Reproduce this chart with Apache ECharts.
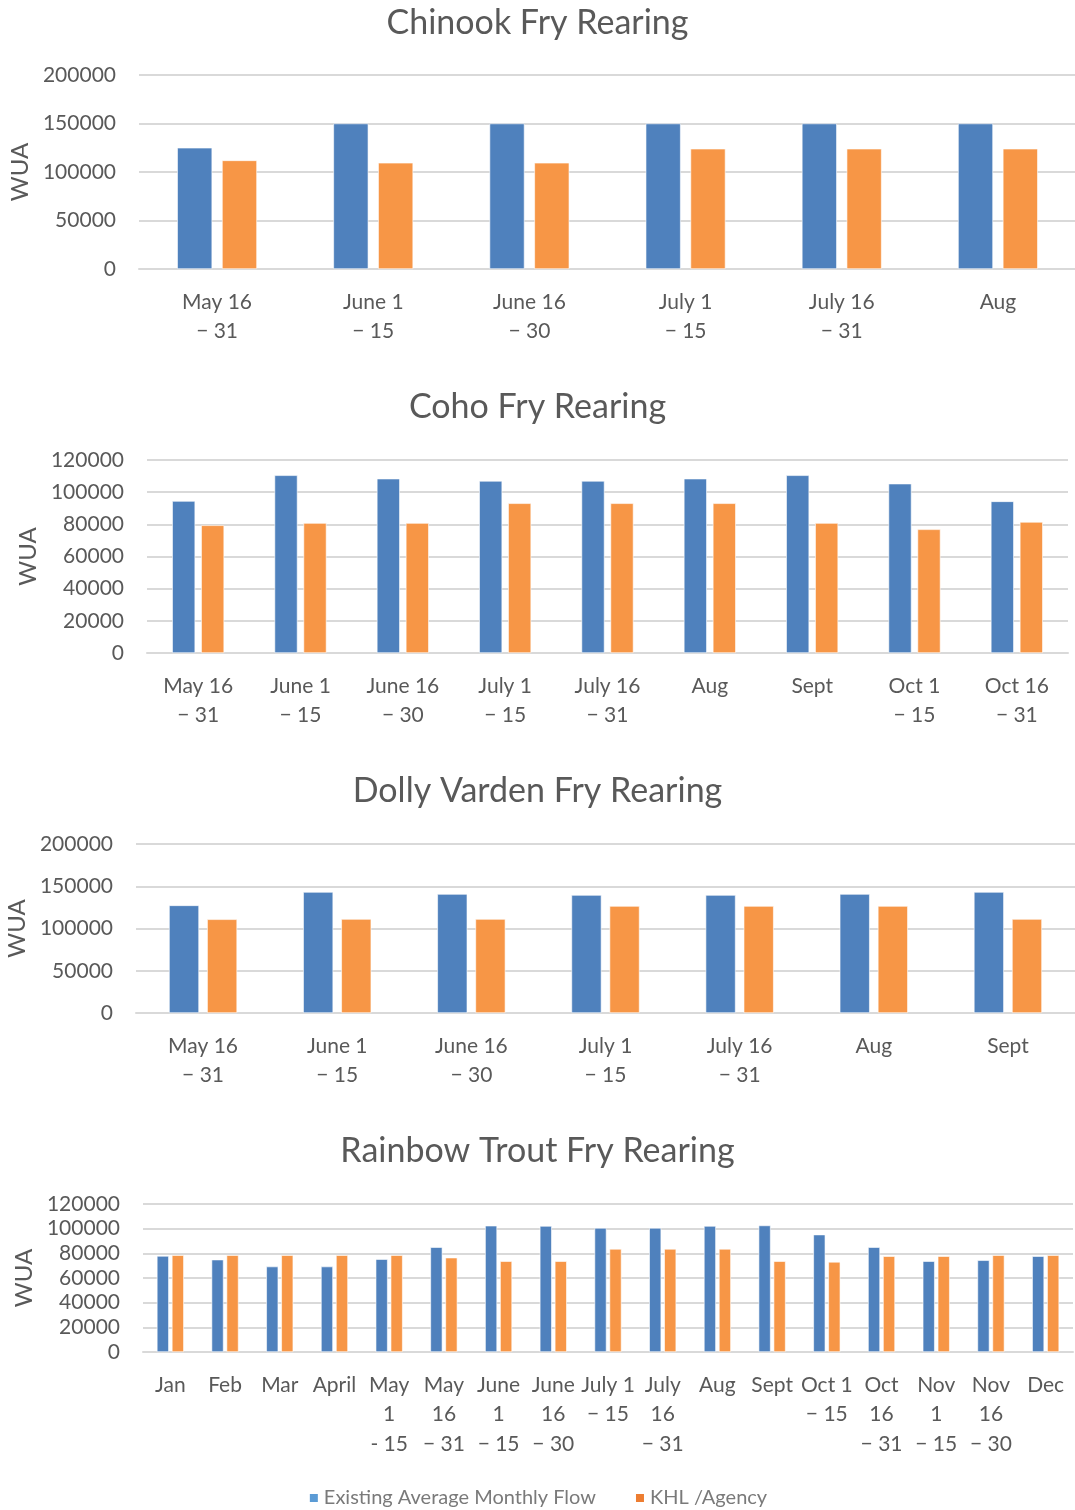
<!DOCTYPE html>
<html><head><meta charset="utf-8">
<script src="https://cdn.jsdelivr.net/npm/echarts@6/dist/echarts.min.js"></script>
<style>html,body{margin:0;padding:0;background:#fff}#c{width:1075px;height:1510px}</style>
</head><body><div id="c"></div>
<script>
const seriesNames = ['Existing Average Monthly Flow', 'KHL /Agency'];

const chinookCats = ['May 16\n− 31', 'June 1\n− 15', 'June 16\n− 30', 'July 1\n− 15', 'July 16\n− 31', 'Aug'];
const chinookExisting = [125000, 150000, 150000, 150000, 150000, 150000];
const chinookKHL = [112000, 109500, 109500, 124000, 124000, 124000];

const cohoCats = ['May 16\n− 31', 'June 1\n− 15', 'June 16\n− 30', 'July 1\n− 15', 'July 16\n− 31', 'Aug', 'Sept', 'Oct 1\n− 15', 'Oct 16\n− 31'];
const cohoExisting = [94500, 110500, 108400, 107000, 107000, 108400, 110500, 105300, 94300];
const cohoKHL = [79400, 80800, 80800, 93100, 93100, 93100, 80800, 76900, 81500];

const dollyCats = ['May 16\n− 31', 'June 1\n− 15', 'June 16\n− 30', 'July 1\n− 15', 'July 16\n− 31', 'Aug', 'Sept'];
const dollyExisting = [127400, 143200, 140800, 139600, 139600, 140800, 143200];
const dollyKHL = [110900, 111200, 111200, 126600, 126600, 126600, 111200];

const rainbowCats = ['Jan', 'Feb', 'Mar', 'April', 'May\n1\n- 15', 'May\n16\n− 31', 'June\n1\n− 15', 'June\n16\n− 30', 'July 1\n− 15', 'July\n16\n− 31', 'Aug', 'Sept', 'Oct 1\n− 15', 'Oct\n16\n− 31', 'Nov\n1\n− 15', 'Nov\n16\n− 30', 'Dec'];
const rainbowExisting = [77900, 74900, 69300, 69300, 75300, 85000, 102400, 102200, 100600, 100600, 102200, 102600, 95200, 85000, 73600, 74400, 77700];
const rainbowKHL = [78500, 78500, 78500, 78500, 78500, 76500, 73600, 73600, 83600, 83600, 83600, 73600, 73100, 77700, 77700, 78500, 78500];

const titles = ['Chinook Fry Rearing', 'Coho Fry Rearing', 'Dolly Varden Fry Rearing', 'Rainbow Trout Fry Rearing'];
const yMax = [200000, 120000, 200000, 120000];
const yInterval = [50000, 20000, 50000, 20000];

const FONT = 'Lato';
const GRAY = '#595959';
const BLUE = '#4F81BD', ORANGE = '#F79646';

const charts = [
  {cats: chinookCats, a: chinookExisting, b: chinookKHL, top: 75, bottom: 269, left: 139, right: 1076, bw: 35, gap: '28%', titleY: 22},
  {cats: cohoCats, a: cohoExisting, b: cohoKHL, top: 460, bottom: 653, left: 147, right: 1068, bw: 23, gap: '26%', titleY: 406},
  {cats: dollyCats, a: dollyExisting, b: dollyKHL, top: 844, bottom: 1013, left: 136, right: 1075, bw: 30, gap: '27%', titleY: 790},
  {cats: rainbowCats, a: rainbowExisting, b: rainbowKHL, top: 1204, bottom: 1352, left: 143, right: 1073, bw: 12, gap: '25%', titleY: 1150}
];

const grid = [], xAxis = [], yAxis = [], series = [], title = [];
charts.forEach((c, i) => {
  grid.push({left: c.left, width: c.right - c.left, top: c.top, height: c.bottom - c.top,
    containLabel: false, outerBoundsMode: 'none'});
  title.push({text: titles[i], left: 'center', top: c.titleY - 21,
    textStyle: {fontFamily: FONT, fontSize: 34, fontWeight: 'normal', color: GRAY}});
  xAxis.push({type: 'category', gridIndex: i, data: c.cats,
    axisLine: {lineStyle: {color: '#d9d9d9', width: 2}}, axisTick: {show: false},
    axisLabel: {interval: 0, fontFamily: FONT, fontSize: 21, color: GRAY, lineHeight: 29.5, margin: 18}});
  yAxis.push({type: 'value', gridIndex: i, min: 0, max: yMax[i], interval: yInterval[i],
    name: 'WUA', nameLocation: 'middle', nameRotate: 90, nameGap: 104,
    nameTextStyle: {fontFamily: FONT, fontSize: 24, color: GRAY},
    axisLine: {show: false}, axisTick: {show: false},
    axisLabel: {fontFamily: FONT, fontSize: 21, color: GRAY, margin: 23, formatter: v => String(v)},
    splitLine: {lineStyle: {color: '#d9d9d9', width: 2}}});
  series.push({name: seriesNames[0], type: 'bar', xAxisIndex: i, yAxisIndex: i, data: c.a,
    barWidth: c.bw, barGap: c.gap, itemStyle: {color: BLUE, borderColor: '#ffffff', borderWidth: 0.6}});
  series.push({name: seriesNames[1], type: 'bar', xAxisIndex: i, yAxisIndex: i, data: c.b,
    barWidth: c.bw, barGap: c.gap, itemStyle: {color: ORANGE, borderColor: '#ffffff', borderWidth: 0.6}});
});

const chart = echarts.init(document.getElementById('c'), null, {renderer: 'canvas'});
chart.setOption({
  animation: false,
  backgroundColor: '#ffffff',
  title: title,
  legend: {top: 1483, left: 'center', itemWidth: 10, itemHeight: 10, itemGap: 38, icon: 'rect',
    textStyle: {fontFamily: FONT, fontSize: 20, color: '#7a7a7a'},
    data: [{name: seriesNames[0], itemStyle: {color: '#5B9BD5'}}, {name: seriesNames[1], itemStyle: {color: '#ED7D31'}}]},
  grid: grid, xAxis: xAxis, yAxis: yAxis, series: series
});
</script></body></html>
